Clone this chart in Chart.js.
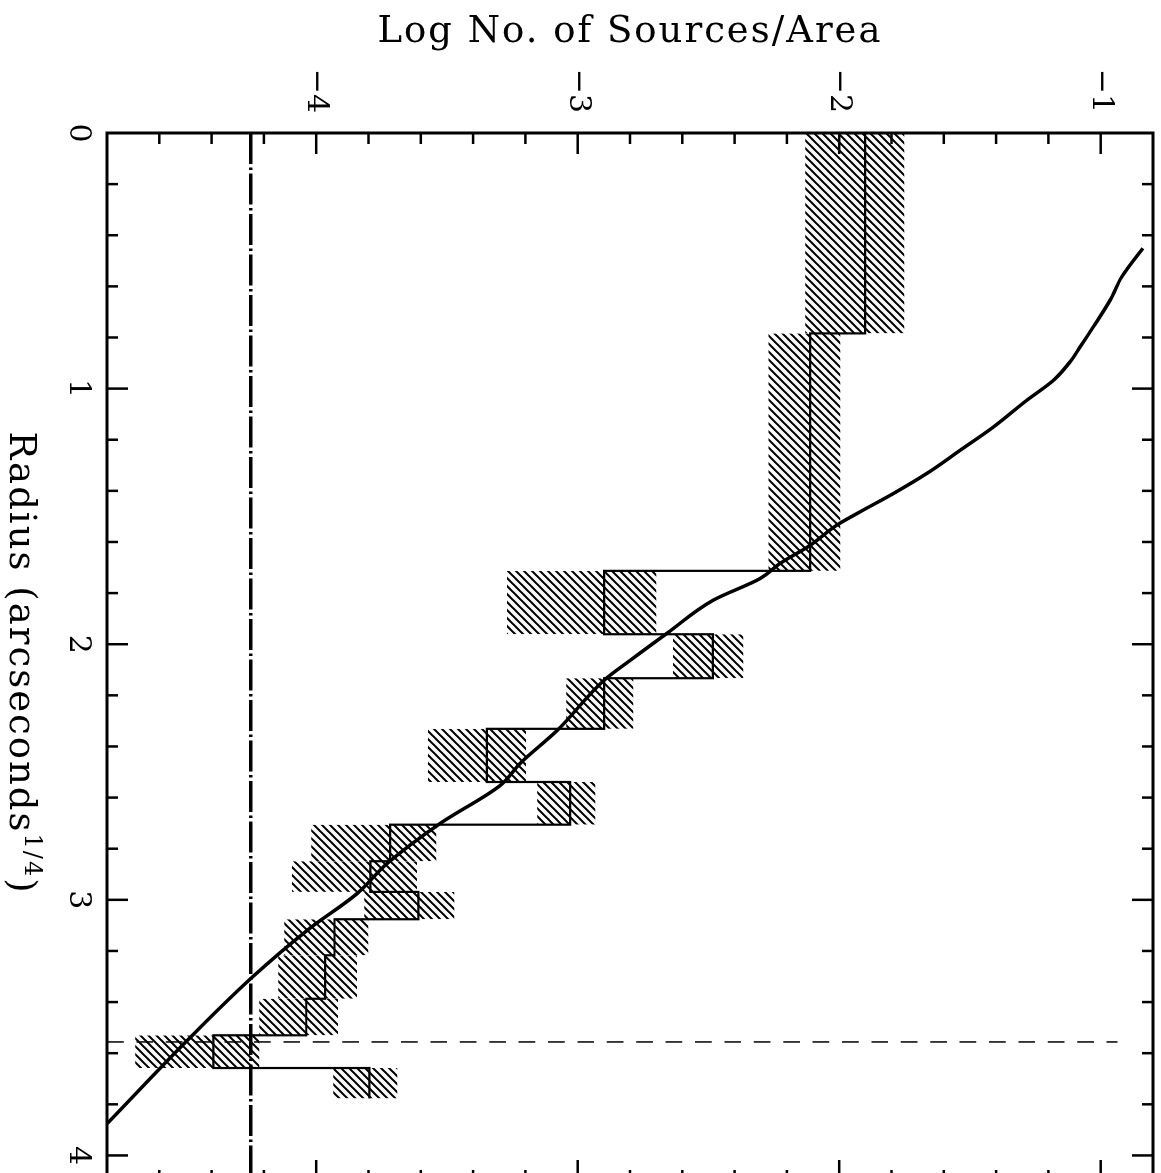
<!DOCTYPE html>
<html>
<head>
<meta charset="utf-8">
<script src="https://cdn.jsdelivr.net/npm/chart.js@4/dist/chart.umd.min.js"></script>
<style>
  body { margin: 0; background: #fff; }
  #wrap { position: relative; width: 1161px; height: 1173px; overflow: hidden; background: #fff; }
  /* the plot is drawn in the usual way and turned a quarter turn clockwise */
  #chart { position: absolute; left: 0; top: 0; transform-origin: 0 0; transform: translateX(1161px) rotate(90deg); }
</style>
</head>
<body>
<div id="wrap"><canvas id="chart" width="1200" height="1161"></canvas></div>
<script>
// histogram of source density, one value per radial bin
var binEdges = [0, 0.784, 1.713, 1.961, 2.133, 2.331, 2.539, 2.706, 2.849, 2.969, 3.076, 3.217, 3.387, 3.530, 3.658, 3.777];
var logCounts = [-1.901, -2.111, -2.899, -2.483, -2.899, -3.347, -3.029, -3.717, -3.793, -3.609, -3.930, -3.966, -4.038, -4.393, -3.797];
var errLow  = [-2.130, -2.270, -3.270, -2.636, -3.044, -3.572, -3.155, -4.019, -4.093, -3.816, -4.122, -4.145, -4.218, -4.692, -3.935];
var errHigh = [-1.751, -1.996, -2.700, -2.367, -2.788, -3.198, -2.933, -3.541, -3.615, -3.472, -3.801, -3.844, -3.917, -4.218, -3.690];

// model profile
var modelRadius = [0.451, 0.562, 0.654, 0.758, 0.836, 0.895, 0.967, 1.045, 1.150, 1.241, 1.332, 1.410, 1.482, 1.534, 1.613, 1.684, 1.743, 1.828, 1.957, 2.063, 2.141, 2.337, 2.466, 2.552, 2.701, 2.857, 2.975, 3.119, 3.303, 3.550, 3.875];
var modelLog    = [-0.839, -0.919, -0.964, -1.028, -1.078, -1.117, -1.180, -1.282, -1.410, -1.537, -1.665, -1.792, -1.920, -2.009, -2.111, -2.226, -2.302, -2.482, -2.658, -2.799, -2.899, -3.078, -3.220, -3.296, -3.526, -3.728, -3.843, -4.034, -4.245, -4.493, -4.799];

var backgroundLevel = -4.25;
var cutRadius = 3.556;
var cutTop = -0.936;

var radiusTicks = [0, 1, 2, 3, 4];
var logTicks = [-4, -3, -2, -1];

var xMin = 0, xMax = 4.1, yMin = -4.8, yMax = -0.8;

var font = "'DejaVu Serif', serif";

// diagonal hatch
function hatch() {
  var c = document.createElement("canvas");
  c.width = 8; c.height = 8;
  var g = c.getContext("2d");
  g.strokeStyle = "#000";
  g.lineWidth = 2;
  g.beginPath();
  g.moveTo(-2, 10); g.lineTo(10, -2);
  g.moveTo(-2, 2); g.lineTo(2, -2);
  g.moveTo(6, 10); g.lineTo(10, 6);
  g.stroke();
  return g.createPattern(c, "repeat");
}
var pattern = hatch();

var datasets = [];

for (var i = 0; i < logCounts.length; i++) {
  datasets.push({
    data: [{x: binEdges[i], y: errHigh[i]}, {x: binEdges[i + 1], y: errHigh[i]}],
    fill: {value: errLow[i]},
    backgroundColor: pattern,
    borderWidth: 0,
    pointRadius: 0,
    order: 10
  });
}

var steps = [];
for (var j = 0; j < logCounts.length; j++) {
  steps.push({x: binEdges[j], y: logCounts[j]});
  steps.push({x: binEdges[j + 1], y: logCounts[j]});
}
datasets.push({
  data: steps,
  borderColor: "#000",
  borderWidth: 2.2,
  pointRadius: 0,
  fill: false,
  order: 2
});

datasets.push({
  data: modelRadius.map(function (r, k) { return {x: r, y: modelLog[k]}; }),
  borderColor: "#000",
  borderWidth: 3.5,
  pointRadius: 0,
  fill: false,
  cubicInterpolationMode: "monotone",
  order: 1
});

datasets.push({
  data: [{x: xMin, y: backgroundLevel}, {x: xMax, y: backgroundLevel}],
  borderColor: "#000",
  borderWidth: 3.5,
  borderDash: [31, 3.5, 2.5, 3.5],
  pointRadius: 0,
  fill: false,
  order: 3
});

datasets.push({
  data: [{x: cutRadius, y: yMin}, {x: cutRadius, y: cutTop}],
  borderColor: "#000",
  borderWidth: 1.5,
  borderDash: [16.7, 12.7],
  pointRadius: 0,
  fill: false,
  order: 3
});

function line(ctx, x1, y1, x2, y2) {
  ctx.beginPath();
  ctx.moveTo(x1, y1);
  ctx.lineTo(x2, y2);
  ctx.stroke();
}

var framePlugin = {
  id: "frame",
  afterDraw: function (chart) {
    var ctx = chart.ctx, a = chart.chartArea;
    var x = chart.scales.x, y = chart.scales.y;
    ctx.save();
    ctx.strokeStyle = "#000";
    ctx.lineWidth = 2.5;
    for (var i = 1; i <= 20; i++) {
      var px = x.getPixelForValue(i * 0.2);
      var len = i % 5 === 0 ? 21 : 11;
      line(ctx, px, a.bottom, px, a.bottom - len);
      line(ctx, px, a.top, px, a.top + len);
    }
    for (var k = 1; k < 20; k++) {
      var py = y.getPixelForValue(yMin + k * 0.2);
      var l2 = (k - 4) % 5 === 0 ? 21 : 11;
      line(ctx, a.left, py, a.left + l2, py);
      line(ctx, a.right, py, a.right - l2, py);
    }
    ctx.lineWidth = 3;
    ctx.strokeRect(a.left, a.top, a.right - a.left, a.bottom - a.top);

    // axis titles
    ctx.fillStyle = "#000";
    ctx.letterSpacing = "2px";
    ctx.font = "37px " + font;
    ctx.textBaseline = "alphabetic";
    ctx.textAlign = "center";
    ctx.save();
    ctx.translate(42, (a.top + a.bottom) / 2);
    ctx.rotate(-Math.PI / 2);
    ctx.fillText("Log No. of Sources/Area", 0, 0);
    ctx.restore();

    var t1 = "Radius (arcseconds", t2 = "1/4", t3 = ")";
    ctx.textAlign = "left";
    var w1 = ctx.measureText(t1).width;
    var w3 = ctx.measureText(t3).width;
    ctx.font = "24px " + font;
    var w2 = ctx.measureText(t2).width;
    var start = 663 - (w1 + w2 + w3) / 2;
    var base = 1151;
    ctx.font = "37px " + font;
    ctx.fillText(t1, start, base);
    ctx.font = "24px " + font;
    ctx.fillText(t2, start + w1, base - 15);
    ctx.font = "37px " + font;
    ctx.fillText(t3, start + w1 + w2, base);
    ctx.restore();
  }
};

new Chart(document.getElementById("chart"), {
  type: "line",
  data: {datasets: datasets},
  options: {
    responsive: false,
    animation: false,
    devicePixelRatio: 1,
    layout: {padding: {left: 0, top: 8, right: 19, bottom: 0}},
    plugins: {legend: {display: false}, tooltip: {enabled: false}},
    scales: {
      x: {
        type: "linear",
        min: xMin,
        max: xMax,
        grid: {display: false, drawTicks: false},
        border: {display: false},
        afterBuildTicks: function (s) { s.ticks = radiusTicks.map(function (v) { return {value: v}; }); },
        afterFit: function (s) { s.height = 107; s.paddingLeft = 0; s.paddingRight = 0; s.paddingTop = 0; s.paddingBottom = 0; },
        ticks: {
          padding: 11,
          maxRotation: 0,
          minRotation: 0,
          autoSkip: false,
          color: "#000",
          font: {family: font, size: 30},
          callback: function (v) { return String(v); }
        }
      },
      y: {
        type: "linear",
        min: yMin,
        max: yMax,
        grid: {display: false, drawTicks: false},
        border: {display: false},
        afterBuildTicks: function (s) { s.ticks = logTicks.map(function (v) { return {value: v}; }); },
        afterFit: function (s) { s.width = 133; s.paddingLeft = 0; s.paddingRight = 0; s.paddingTop = 0; s.paddingBottom = 0; },
        ticks: {
          padding: 20,
          autoSkip: false,
          color: "#000",
          font: {family: font, size: 30},
          callback: function (v) { return "\u2212" + String(Math.abs(v)); }
        }
      }
    }
  },
  plugins: [framePlugin]
});
</script>
</body>
</html>
